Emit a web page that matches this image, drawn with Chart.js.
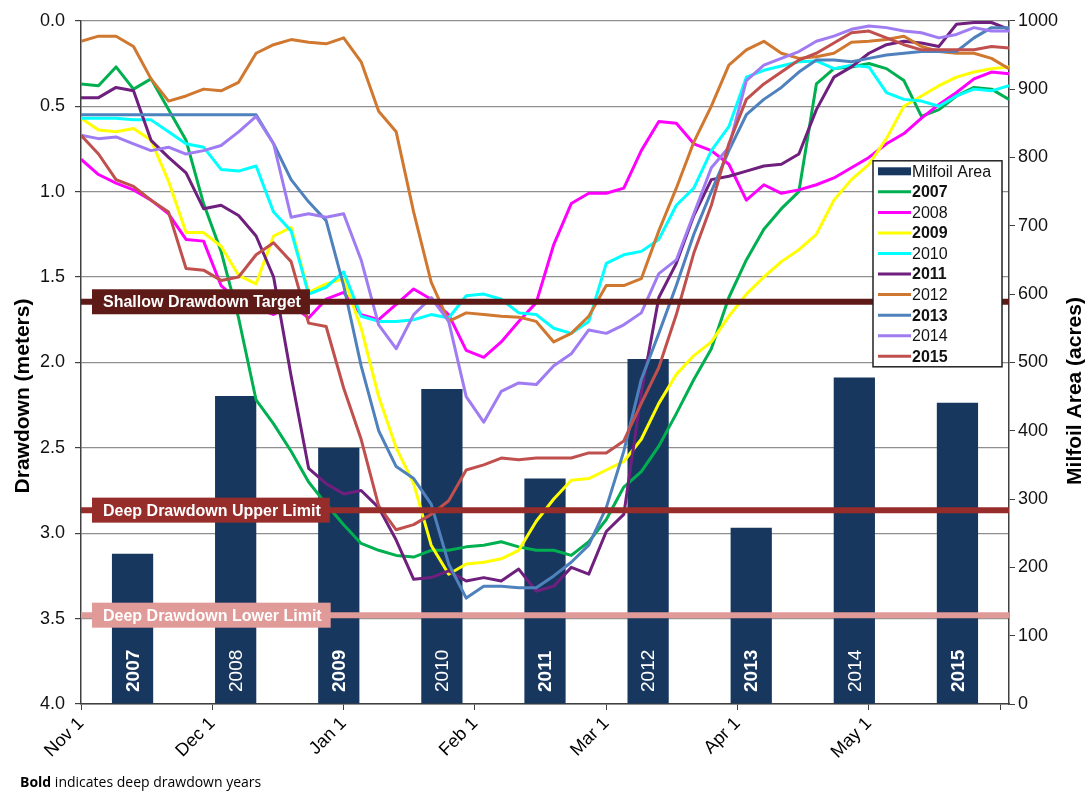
<!DOCTYPE html>
<html>
<head>
<meta charset="utf-8">
<title>Drawdown and Milfoil Area</title>
<script src="https://cdn.jsdelivr.net/npm/chart.js@4.4.1/dist/chart.umd.min.js"></script>
<style>
  html, body { margin: 0; padding: 0; background: #fff; }
  #wrap { position: relative; width: 1091px; height: 792px; }
  #note { position: absolute; left: 20px; top: 772px; font: 14px 'Open Sans', sans-serif; color: #000; white-space: nowrap; }
</style>
</head>
<body>
<div id="wrap">
  <canvas id="drawdownChart"></canvas>
  <div id="note"><b>Bold</b> indicates deep drawdown years</div>
</div>
<script>
'use strict';

/* days since Nov 1 for every drawdown reading */
var days = [0, 4, 8, 12, 16, 20, 24, 28, 32, 36, 40, 44, 48, 52, 56, 60, 64, 68, 72, 76,
  80, 84, 88, 92, 96, 100, 104, 108, 112, 116, 120, 124, 128, 132, 136, 140, 144, 148, 152, 156,
  160, 164, 168, 172, 176, 180, 184, 188, 192, 196, 200, 204, 208, 212];

var tickDays = [0, 30, 60, 90, 120, 150, 180, 210];
var tickLabels = ['Nov 1', 'Dec 1', 'Jan 1', 'Feb 1', 'Mar 1', 'Apr 1', 'May 1', ''];

var milfoilYears = ['2007', '2008', '2009', '2010', '2011', '2012', '2013', '2014', '2015'];
var milfoilArea = [220, 451, 375, 461, 330, 505, 258, 478, 441];
var deepYears = ['2007', '2009', '2011', '2013', '2015'];

// drawdown (m) per season
var dd2007 = [0.37, 0.38, 0.27, 0.40, 0.34, 0.52, 0.70, 1.07, 1.35, 1.74,
  2.22, 2.36, 2.52, 2.70, 2.83, 2.95, 3.06, 3.10, 3.13, 3.14,
  3.10, 3.10, 3.08, 3.07, 3.05, 3.08, 3.10, 3.10, 3.13, 3.05,
  2.92, 2.73, 2.64, 2.49, 2.30, 2.10, 1.92, 1.62, 1.40, 1.22,
  1.10, 1.00, 0.37, 0.28, 0.27, 0.25, 0.28, 0.35, 0.56, 0.52,
  0.44, 0.39, 0.40, 0.46];
var dd2008 = [0.81, 0.90, 0.95, 0.99, 1.05, 1.13, 1.28, 1.29, 1.55, 1.64,
  1.68, 1.72, 1.66, 1.74, 1.63, 1.59, 1.72, 1.75, 1.66, 1.57,
  1.63, 1.72, 1.93, 1.97, 1.88, 1.76, 1.65, 1.31, 1.07, 1.01,
  1.01, 0.98, 0.76, 0.59, 0.60, 0.72, 0.76, 0.84, 1.05, 0.96,
  1.01, 0.99, 0.96, 0.92, 0.86, 0.80, 0.72, 0.66, 0.57, 0.49,
  0.42, 0.34, 0.30, 0.31];
var dd2009 = [0.57, 0.64, 0.65, 0.63, 0.70, 0.94, 1.24, 1.24, 1.32, 1.49,
  1.54, 1.26, 1.21, 1.59, 1.54, 1.51, 1.80, 2.20, 2.50, 2.71,
  3.07, 3.24, 3.18, 3.17, 3.15, 3.10, 2.93, 2.80, 2.69, 2.68,
  2.63, 2.58, 2.45, 2.24, 2.07, 1.96, 1.88, 1.73, 1.60, 1.50,
  1.41, 1.34, 1.25, 1.05, 0.93, 0.84, 0.69, 0.50, 0.44, 0.38,
  0.33, 0.30, 0.28, 0.27];
var dd2010 = [0.57, 0.57, 0.57, 0.58, 0.58, 0.65, 0.72, 0.74, 0.87, 0.88,
  0.85, 1.12, 1.23, 1.60, 1.56, 1.47, 1.73, 1.76, 1.76, 1.75,
  1.72, 1.74, 1.61, 1.60, 1.63, 1.71, 1.72, 1.80, 1.83, 1.76,
  1.42, 1.37, 1.35, 1.28, 1.08, 0.98, 0.76, 0.62, 0.33, 0.29,
  0.265, 0.24, 0.235, 0.28, 0.26, 0.27, 0.42, 0.46, 0.47, 0.50,
  0.44, 0.40, 0.41, 0.38];
var dd2011 = [0.45, 0.45, 0.39, 0.41, 0.70, 0.80, 0.89, 1.10, 1.08, 1.14,
  1.26, 1.50, 2.08, 2.62, 2.71, 2.77, 2.75, 2.85, 3.04, 3.27,
  3.26, 3.22, 3.28, 3.26, 3.28, 3.21, 3.34, 3.31, 3.20, 3.24,
  2.99, 2.89, 2.18, 1.62, 1.42, 1.14, 0.93, 0.91, 0.88, 0.85,
  0.84, 0.78, 0.52, 0.33, 0.27, 0.19, 0.14, 0.12, 0.13, 0.15,
  0.02, 0.01, 0.01, 0.05];
var dd2012 = [0.12, 0.09, 0.09, 0.15, 0.34, 0.47, 0.44, 0.40, 0.41, 0.36,
  0.19, 0.14, 0.11, 0.125, 0.135, 0.10, 0.24, 0.53, 0.65, 1.12,
  1.53, 1.76, 1.71, 1.72, 1.73, 1.735, 1.76, 1.88, 1.83, 1.73,
  1.55, 1.55, 1.51, 1.23, 0.98, 0.71, 0.50, 0.26, 0.17, 0.12,
  0.19, 0.22, 0.21, 0.19, 0.125, 0.12, 0.11, 0.09, 0.15, 0.18,
  0.19, 0.19, 0.22, 0.28];
var dd2013 = [0.55, 0.55, 0.55, 0.55, 0.55, 0.55, 0.55, 0.55, 0.55, 0.55,
  0.55, 0.72, 0.93, 1.06, 1.17, 1.55, 2.02, 2.40, 2.61, 2.68,
  2.83, 3.18, 3.38, 3.31, 3.31, 3.32, 3.32, 3.25, 3.17, 3.07,
  2.85, 2.52, 2.10, 1.83, 1.55, 1.25, 1.00, 0.76, 0.55, 0.46,
  0.39, 0.30, 0.23, 0.23, 0.24, 0.22, 0.20, 0.19, 0.18, 0.18,
  0.18, 0.10, 0.04, 0.04];
var dd2014 = [0.67, 0.69, 0.68, 0.72, 0.76, 0.74, 0.78, 0.76, 0.73, 0.65,
  0.56, 0.72, 1.15, 1.13, 1.15, 1.13, 1.40, 1.78, 1.92, 1.72,
  1.62, 1.76, 2.20, 2.35, 2.17, 2.12, 2.13, 2.02, 1.95, 1.81,
  1.83, 1.78, 1.71, 1.48, 1.40, 1.13, 0.86, 0.74, 0.35, 0.26,
  0.22, 0.18, 0.12, 0.09, 0.05, 0.03, 0.04, 0.06, 0.07, 0.10,
  0.08, 0.04, 0.06, 0.06];
var dd2015 = [0.67, 0.78, 0.93, 0.97, 1.05, 1.12, 1.45, 1.46, 1.52, 1.50,
  1.37, 1.30, 1.41, 1.77, 1.79, 2.15, 2.45, 2.84, 2.98, 2.95,
  2.89, 2.81, 2.63, 2.60, 2.56, 2.57, 2.56, 2.56, 2.56, 2.53,
  2.53, 2.46, 2.24, 2.03, 1.72, 1.36, 1.08, 0.72, 0.46, 0.37,
  0.30, 0.23, 0.19, 0.13, 0.07, 0.06, 0.10, 0.14, 0.17, 0.17,
  0.17, 0.17, 0.15, 0.16];

var seriesYears = ['2007', '2008', '2009', '2010', '2011', '2012', '2013', '2014', '2015'];
var seriesValues = [dd2007, dd2008, dd2009, dd2010, dd2011, dd2012, dd2013, dd2014, dd2015];
var seriesColors = ['#00b050', '#ff00ff', '#ffff00', '#00ffff', '#6f1f7d',
  '#d0782f', '#4f81bd', '#a07cf2', '#c0504d'];

var refNames = ['Shallow Drawdown Target', 'Deep Drawdown Upper Limit', 'Deep Drawdown Lower Limit'];
var refLevels = [1.645, 2.865, 3.48];
var refColors = ['#5e1a17', '#962d2b', '#e09a98'];

var barColor = '#17375e';
var font = "'Liberation Sans', Arial, sans-serif";

function toPoints(vals) {
  return days.map(function (d, i) { return { x: d, y: vals[i] }; });
}

var datasets = [];
datasets.push({
  type: 'bar',
  label: 'Milfoil Area',
  data: milfoilArea,
  xAxisID: 'xb',
  yAxisID: 'y2',
  backgroundColor: barColor,
  grouped: false,
  barPercentage: 0.4,
  categoryPercentage: 1,
  order: 40
});
seriesYears.forEach(function (yr, i) {
  datasets.push({
    type: 'line',
    label: yr,
    data: toPoints(seriesValues[i]),
    xAxisID: 'x',
    yAxisID: 'y',
    borderColor: seriesColors[i],
    borderWidth: 3,
    pointRadius: 0,
    tension: 0,
    borderJoinStyle: 'round',
    order: 30 - i
  });
});
refNames.forEach(function (name, i) {
  datasets.push({
    type: 'line',
    label: name,
    data: [{ x: days[0], y: refLevels[i] }, { x: days[days.length - 1], y: refLevels[i] }],
    xAxisID: 'x',
    yAxisID: 'y',
    borderColor: refColors[i],
    borderWidth: 6,
    pointRadius: 0,
    order: 5
  });
});

/* year labels inside the bars */
var barLabels = {
  id: 'barLabels',
  afterDatasetsDraw: function (chart) {
    var ctx = chart.ctx;
    var meta = chart.getDatasetMeta(0);
    var bottom = chart.scales.y2.getPixelForValue(0);
    ctx.save();
    ctx.fillStyle = '#fff';
    ctx.textAlign = 'left';
    ctx.textBaseline = 'middle';
    meta.data.forEach(function (bar, i) {
      var yr = milfoilYears[i];
      ctx.save();
      ctx.translate(bar.x, bottom - 12);
      ctx.rotate(-Math.PI / 2);
      ctx.font = (deepYears.indexOf(yr) >= 0 ? 'bold ' : '') + '19px ' + font;
      ctx.fillText(yr, 0, 1);
      ctx.restore();
    });
    ctx.restore();
  }
};

/* boxed labels on the reference levels */
var refTags = {
  id: 'refTags',
  afterDatasetsDraw: function (chart) {
    var ctx = chart.ctx;
    var y = chart.scales.y;
    var left = chart.chartArea.left + 11;
    ctx.save();
    ctx.font = 'bold 16px ' + font;
    ctx.textBaseline = 'middle';
    ctx.textAlign = 'left';
    refNames.forEach(function (name, i) {
      var py = y.getPixelForValue(refLevels[i]);
      var w = ctx.measureText(name).width + 20;
      ctx.fillStyle = refColors[i];
      ctx.fillRect(left, py - 12.5, w, 25);
      ctx.fillStyle = '#fff';
      ctx.fillText(name, left + 11, py + 1);
    });
    ctx.restore();
  }
};

/* legend box and axis titles */
var frame = {
  id: 'frame',
  afterDraw: function (chart) {
    var ctx = chart.ctx;
    var a = chart.chartArea;
    var x0 = a.right - 136, y0 = a.top + 140, w = 129, h = 206;
    ctx.save();
    ctx.fillStyle = '#fff';
    ctx.fillRect(x0, y0, w, h);
    ctx.strokeStyle = '#222';
    ctx.lineWidth = 1.5;
    ctx.strokeRect(x0, y0, w, h);

    ctx.textBaseline = 'middle';
    ctx.textAlign = 'left';
    var rowY = y0 + 10.5;
    ctx.fillStyle = barColor;
    ctx.fillRect(x0 + 5, rowY - 4, 33, 8);
    ctx.fillStyle = '#111';
    ctx.font = '16px ' + font;
    ctx.fillText('Milfoil Area', x0 + 39, rowY + 1);
    seriesYears.forEach(function (yr, i) {
      var ry = rowY + (i + 1) * 20.55;
      ctx.strokeStyle = seriesColors[i];
      ctx.lineWidth = 3;
      ctx.beginPath();
      ctx.moveTo(x0 + 5, ry);
      ctx.lineTo(x0 + 38, ry);
      ctx.stroke();
      ctx.fillStyle = '#111';
      ctx.font = (deepYears.indexOf(yr) >= 0 ? 'bold ' : '') + '16px ' + font;
      ctx.fillText(yr, x0 + 39, ry + 1);
    });

    ctx.fillStyle = '#000';
    ctx.font = 'bold 21px ' + font;
    ctx.textAlign = 'center';
    ctx.save();
    ctx.translate(23, 396);
    ctx.rotate(-Math.PI / 2);
    ctx.fillText('Drawdown (meters)', 0, 0);
    ctx.restore();
    ctx.save();
    ctx.translate(1075, 391);
    ctx.rotate(-Math.PI / 2);
    ctx.fillText('Milfoil Area (acres)', 0, 0);
    ctx.restore();
    ctx.restore();
  }
};

new Chart(document.getElementById('drawdownChart'), {
  type: 'line',
  data: { datasets: datasets },
  plugins: [barLabels, refTags, frame],
  options: {
    responsive: true,
    maintainAspectRatio: false,
    animation: false,
    layout: { padding: { top: 17, left: 0, right: 0, bottom: 0 } },
    plugins: { legend: { display: false }, tooltip: { enabled: false } },
    scales: {
      x: {
        type: 'linear',
        min: days[0],
        max: days[days.length - 1],
        offset: false,
        afterBuildTicks: function (s) {
          s.ticks = tickDays.map(function (v) { return { value: v }; });
        },
        afterFit: function (s) { s.height = 88; },
        grid: { drawOnChartArea: false, drawTicks: true, tickLength: 6, tickColor: '#404040' },
        border: { color: '#404040', width: 1.5 },
        ticks: {
          autoSkip: false,
          minRotation: 45,
          maxRotation: 45,
          padding: 3,
          color: '#000',
          font: { family: font, size: 18 },
          callback: function (v) { return tickLabels[tickDays.indexOf(v)]; }
        }
      },
      xb: { type: 'category', labels: milfoilYears, display: false, offset: true },
      y: {
        position: 'left',
        reverse: true,
        min: 0,
        max: 4,
        afterFit: function (s) { s.width = 81; },
        grid: { color: '#8f8f8f', lineWidth: 1.2, tickColor: '#404040', tickLength: 6 },
        border: { color: '#404040', width: 1.5 },
        ticks: {
          stepSize: 0.5,
          padding: 10,
          color: '#111',
          font: { family: font, size: 18 },
          callback: function (v) { return v.toFixed(1); }
        }
      },
      y2: {
        position: 'right',
        min: 0,
        max: 1000,
        afterFit: function (s) { s.width = 82; },
        grid: { drawOnChartArea: false, tickColor: '#404040', tickLength: 6 },
        border: { color: '#404040', width: 1.5 },
        ticks: {
          stepSize: 100,
          padding: 3,
          color: '#111',
          font: { family: font, size: 18 },
          callback: function (v) { return String(v); }
        }
      }
    }
  }
});
</script>
</body>
</html>
